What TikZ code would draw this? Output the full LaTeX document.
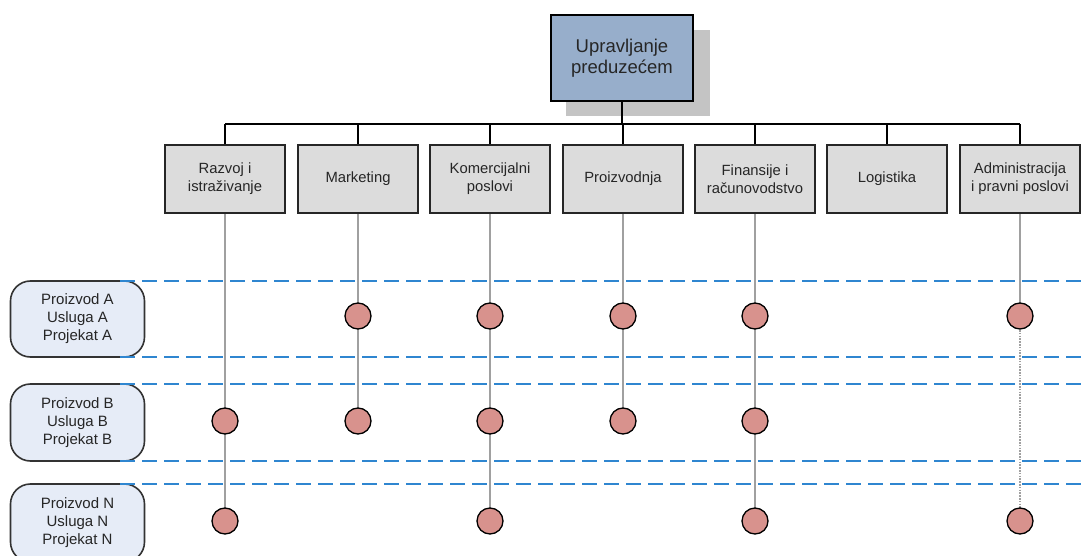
\documentclass[tikz,border=0pt]{standalone}
\usepackage{fontspec}
\setmainfont{Liberation Sans}
\usetikzlibrary{backgrounds}
\definecolor{topblue}{HTML}{97AECB}
\definecolor{shadowgray}{HTML}{C4C4C4}
\definecolor{deptgray}{HTML}{DCDCDC}
\definecolor{rowblue}{HTML}{E6ECF7}
\definecolor{dashblue}{HTML}{2F86D0}
\definecolor{dotpink}{HTML}{D8928D}
\definecolor{linegray}{HTML}{A0A0A0}
\tikzset{
  topbox/.style={draw=black, line width=1.6pt, fill=topblue, minimum width=142pt, minimum height=86pt, align=center, font=\fontsize{18.5}{21}\selectfont, text=black!85},
  deptbox/.style={draw=black!85, line width=1.6pt, fill=deptgray, minimum width=120pt, minimum height=68pt, align=center, font=\fontsize{14.8}{18}\selectfont, text=black!85},
  rowbox/.style={draw=black!80, line width=1.6pt, fill=rowblue, rounded corners=20pt, minimum width=134pt, align=center, font=\fontsize{15}{18}\selectfont, text=black!85},
  dotnode/.style={circle, draw=black, line width=1.3pt, fill=dotpink, minimum size=26pt, inner sep=0pt},
  busline/.style={draw=black, line width=1.6pt},
  vline/.style={draw=linegray, line width=1.6pt},
  rowsep/.style={draw=dashblue, line width=1.8pt, dash pattern=on 15pt off 7pt}
}
\begin{document}
\begin{tikzpicture}[x=1pt,y=-1pt]
\useasboundingbox (0,0) rectangle (1084,556);
\begin{scope}
\clip (0,0) rectangle (1084,556);
% shadow
\fill[shadowgray] (566,30) rectangle (710,116);
\node[topbox] (top) at (622,58) {Upravljanje\\preduzećem};
% departments
\node[deptbox] (d1) at (225,179) {Razvoj i\\istraživanje};
\node[deptbox] (d2) at (358,179) {Marketing};
\node[deptbox] (d3) at (490,179) {Komercijalni\\poslovi};
\node[deptbox] (d4) at (623,179) {Proizvodnja};
\node[deptbox] (d5) at (755,179) {Finansije i\\računovodstvo};
\node[deptbox] (d6) at (887,179) {Logistika};
\node[deptbox] (d7) at (1020,179) {Administracija\\i pravni poslovi};
% bus
\coordinate (busL) at (225,124);
\coordinate (busR) at (1020,124);
\coordinate (busT) at (622,124);
\draw[busline] (top.south) -- (busT);
\draw[busline] (busL) -- (busR);
\foreach \d in {d1,d2,d3,d4,d5,d6,d7}{
  \draw[busline] (\d.north) -- (\d.north |- busL);
}
% row boxes
\node[rowbox, minimum height=76pt] (rA) at (77.5,319) {Proizvod A\\Usluga A\\Projekat A};
\node[rowbox, minimum height=77pt] (rB) at (77.5,422.5) {Proizvod B\\Usluga B\\Projekat B};
\node[rowbox, minimum height=78pt] (rN) at (77.5,523) {Proizvod N\\Usluga N\\Projekat N};
% row separators
\coordinate (s1a) at (120,281);   \coordinate (s1b) at (1084,281);
\coordinate (s2a) at (120,357);   \coordinate (s2b) at (1084,357);
\coordinate (s3a) at (120,384);   \coordinate (s3b) at (1084,384);
\coordinate (s4a) at (120,461);   \coordinate (s4b) at (1084,461);
\coordinate (s5a) at (120,484);   \coordinate (s5b) at (1084,484);
\foreach \i in {1,...,5}{ \draw[rowsep] (s\i a) -- (s\i b); }
% dots
\node[dotnode] (c2A) at (358,316) {};
\node[dotnode] (c3A) at (490,316) {};
\node[dotnode] (c4A) at (623,316) {};
\node[dotnode] (c5A) at (755,316) {};
\node[dotnode] (c7A) at (1020,316) {};
\node[dotnode] (c1B) at (225,421) {};
\node[dotnode] (c2B) at (358,421) {};
\node[dotnode] (c3B) at (490,421) {};
\node[dotnode] (c4B) at (623,421) {};
\node[dotnode] (c5B) at (755,421) {};
\node[dotnode] (c1N) at (225,521) {};
\node[dotnode] (c3N) at (490,521) {};
\node[dotnode] (c5N) at (755,521) {};
\node[dotnode] (c7N) at (1020,521) {};
\begin{scope}[on background layer]
\draw[vline] (d1.south) -- (c1N.center);
\draw[vline] (d2.south) -- (c2B.center);
\draw[vline] (d3.south) -- (c3N.center);
\draw[vline] (d4.south) -- (c4B.center);
\draw[vline] (d5.south) -- (c5N.center);
\draw[vline] (d7.south) -- (c7A.center);
\draw[vline, dash pattern=on 1.6pt off 1.2pt] (c7A.center) -- (c7N.center);
\end{scope}
\end{scope}
\end{tikzpicture}
\end{document}
